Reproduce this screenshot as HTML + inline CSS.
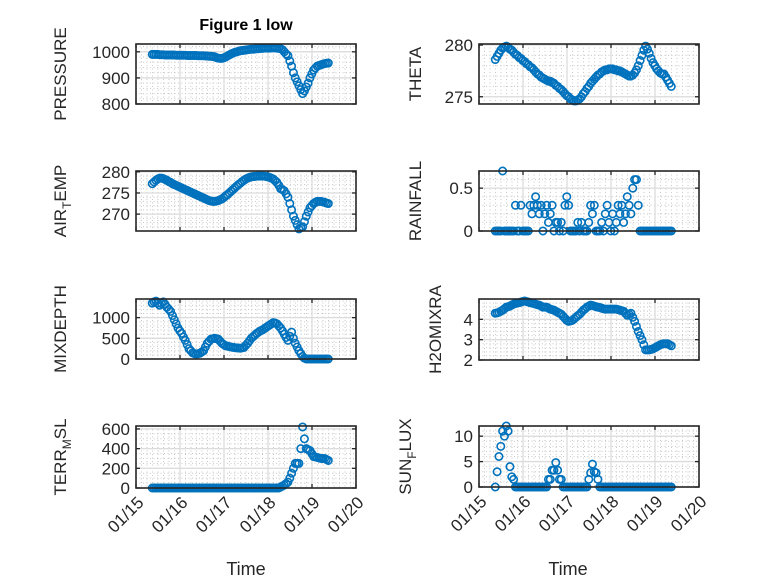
<!DOCTYPE html>
<html><head><meta charset="utf-8"><style>
html,body{margin:0;padding:0;background:#fff;}
svg{display:block;font-family:"Liberation Sans","DejaVu Sans",sans-serif;}
</style></head><body>
<svg id="fig" width="778" height="583" viewBox="0 0 778 583">
<rect x="0" y="0" width="778" height="583" fill="#ffffff"/>
<text x="246" y="30" text-anchor="middle" font-size="16" font-weight="bold" fill="#000">Figure 1 low</text>
<text x="246" y="575" text-anchor="middle" font-size="18" fill="#262626">Time</text>
<text x="568" y="575" text-anchor="middle" font-size="18" fill="#262626">Time</text>
</svg>
<script>
// time: days after 01/15 00:00, hourly samples
const startDay = 0.37;
const stepDay = 1/24;
const xTickLabels = ["01/15","01/16","01/17","01/18","01/19","01/20"];
const pressure = [990,990,990,990,989,989,989,988,988,988,988,988,988,987,987,987,987,987,987,986,986,986,986,986,986,985,985,985,985,984,984,983,983,982,981,978,976,975,975,977,980,984,988,992,995,998,1000,1002,1004,1005,1006,1007,1008,1009,1010,1010,1011,1012,1012,1013,1013,1014,1014,1014,1014,1015,1015,1015,1014,1013,1012,1008,1000,992,985,965,945,920,900,885,870,855,840,850,865,880,900,915,930,938,945,948,950,953,955,956,957];
const theta = [278.6,278.9,279.2,279.5,279.7,279.8,279.9,279.8,279.6,279.5,279.3,279.1,279,278.8,278.7,278.5,278.4,278.2,278.1,277.9,277.8,277.6,277.4,277.2,277.1,276.9,276.8,276.7,276.6,276.5,276.5,276.4,276.3,276.1,276,275.8,275.7,275.5,275.3,275.1,275,274.8,274.7,274.6,274.6,274.7,274.8,275,275.3,275.5,275.8,276,276.3,276.5,276.7,276.9,277.1,277.2,277.4,277.5,277.6,277.6,277.7,277.7,277.7,277.6,277.6,277.5,277.5,277.4,277.3,277.2,277.1,277,277,277.1,277.3,277.6,278,278.5,279,279.5,279.9,279.6,279.2,278.7,278.3,278,277.7,277.5,277.3,277.2,277.2,276.9,276.6,276.3,276];
const airTemp = [277.2,277.6,278,278.3,278.5,278.5,278.4,278.2,278,277.7,277.5,277.2,277,276.8,276.6,276.4,276.2,276,275.8,275.6,275.4,275.2,275,274.8,274.6,274.4,274.2,274,273.8,273.6,273.4,273.2,273.1,273,273,273.1,273.2,273.4,273.6,273.9,274.3,274.6,275,275.4,275.8,276.2,276.6,277,277.3,277.7,278,278.3,278.5,278.7,278.8,278.9,278.9,279,279,279,279,279,278.9,278.8,278.7,278.5,278.3,277.9,277.5,276.8,276,275.8,275.5,274.8,274,272.5,271,269.5,268.5,267.5,266.5,266.8,267,268.2,269.5,270.5,271.5,272,272.5,272.8,273,273,273,272.9,272.8,272.6,272.5];
const rainfall = [0,0,0,0,0.7,0,0,0,0,0,0,0.3,0,0,0.3,0,0,0,0,0.3,0.2,0.3,0.4,0.3,0.2,0.3,0,0.2,0.3,0.1,0.2,0.3,0,0.1,0.1,0,0.1,0,0.3,0.4,0.3,0,0,0,0,0.1,0,0.1,0,0,0,0.1,0.3,0.2,0.3,0,0,0,0.1,0,0.2,0.3,0.1,0,0.2,0,0.1,0.3,0.2,0.3,0.1,0.2,0.4,0.3,0.2,0.5,0.6,0.6,0.3,0,0,0,0,0,0,0,0,0,0,0,0,0,0,0,0,0,0];
const mixDepth = [1350,1380,1400,1350,1300,1340,1380,1320,1250,1200,1150,1050,950,850,750,680,620,530,450,350,250,200,150,130,120,130,140,170,200,290,380,430,480,490,500,490,480,430,380,350,320,310,300,290,280,275,270,265,260,270,280,330,380,440,500,540,580,620,650,680,700,730,760,790,820,850,880,870,850,800,750,680,600,520,450,550,650,500,380,290,200,130,60,20,0,0,0,0,0,0,0,0,0,0,0,0,0];
const h2oMix = [4.3,4.32,4.35,4.4,4.45,4.52,4.6,4.62,4.65,4.7,4.75,4.78,4.8,4.82,4.85,4.88,4.9,4.88,4.85,4.82,4.8,4.78,4.75,4.72,4.7,4.65,4.6,4.6,4.6,4.55,4.5,4.48,4.45,4.4,4.35,4.3,4.25,4.15,4.05,3.95,3.9,3.92,3.95,4.02,4.1,4.18,4.25,4.35,4.45,4.52,4.6,4.65,4.7,4.68,4.65,4.62,4.6,4.58,4.55,4.52,4.5,4.5,4.5,4.5,4.5,4.5,4.5,4.48,4.45,4.42,4.4,4.3,4.2,4.25,4.3,4.1,3.9,3.65,3.4,3.2,3.0,2.75,2.5,2.5,2.5,2.52,2.55,2.6,2.65,2.7,2.75,2.78,2.8,2.8,2.8,2.75,2.7];
const terrMsl = [0,0,0,0,0,0,0,0,0,0,0,0,0,0,0,0,0,0,0,0,0,0,0,0,0,0,0,0,0,0,0,0,0,0,0,0,0,0,0,0,0,0,0,0,0,0,0,0,0,0,0,0,0,0,0,0,0,0,0,0,0,0,0,0,0,0,0,0,0,0,10,20,30,45,60,100,150,200,250,250,250,400,620,500,400,390,380,350,320,315,310,305,300,300,300,290,280];
const sunFlux = [0,3,6,8,11,10,12,11,4,2,1.5,0,0,0,0,0,0,0,0,0,0,0,0,0,0,0,0,0,0,1.5,1.5,3.3,3.3,4.8,3.3,1.5,1.5,0,0,0,0,0,0,0,0,0,0,0,0,0,0,1.5,2.8,4.5,3,2.8,1.5,0,0,0,0,0,0,0,0,0,0,0,0,0,0,0,0,0,0,0,0,0,0,0,0,0,0,0,0,0,0,0,0,0,0,0,0,0,0,0,0];

const pressureTicks = [800,900,1000];
const thetaTicks = [275,280];
const airTicks = [270,275,280];
const rainTicks = [0,0.5];
const mixTicks = [0,500,1000];
const h2oTicks = [2,3,4];
const terrTicks = [0,200,400,600];
const sunTicks = [0,5,10];

const NS = "http://www.w3.org/2000/svg";
const svg = document.getElementById('fig');
function mk(tag, attrs, parent){const e=document.createElementNS(NS,tag);for(const k in attrs)e.setAttribute(k,attrs[k]);(parent||svg).appendChild(e);return e;}

const panels = [
 {key:'pressure', data:pressure, ticks:pressureTicks, y0:800, y1:1030, minor:20, x:136, y:44, w:220, h:60, label:['PRESSURE'], lx:66},
 {key:'theta', data:theta, ticks:thetaTicks, y0:274.3, y1:280.1, minor:1, x:479, y:44, w:220, h:60, label:['THETA'], lx:421},
 {key:'air-temp', data:airTemp, ticks:airTicks, y0:266, y1:280.2, minor:1, x:136, y:171, w:220, h:60, label:['AIR','T','EMP'], lx:66},
 {key:'rainfall', data:rainfall, ticks:rainTicks, y0:0, y1:0.7, minor:0.1, x:479, y:171, w:220, h:60, label:['RAINFALL'], lx:421},
 {key:'mixdepth', data:mixDepth, ticks:mixTicks, y0:0, y1:1450, minor:100, x:136, y:299, w:220, h:60, label:['MIXDEPTH'], lx:66},
 {key:'h2omixra', data:h2oMix, ticks:h2oTicks, y0:2, y1:5, minor:0.2, x:479, y:299, w:220, h:61, label:['H2OMIXRA'], lx:441},
 {key:'terr-msl', data:terrMsl, ticks:terrTicks, y0:0, y1:630, minor:50, x:136, y:426, w:220, h:62, label:['TERR','M','SL'], lx:66, bottom:true},
 {key:'sun-flux', data:sunFlux, ticks:sunTicks, y0:0, y1:12, minor:1, x:479, y:426, w:220, h:61, label:['SUN','F','LUX'], lx:411, bottom:true}
];

panels.forEach(p=>{
  const g = mk('g',{});
  
  
  const xs = d => p.x + d/5*p.w;
  const ys = v => p.y + p.h - (v-p.y0)/(p.y1-p.y0)*p.h;
  mk('rect',{x:p.x,y:p.y,width:p.w,height:p.h,fill:'#fff'},g);
  for(let k=1;k<40;k++){ if(k%8===0) continue; const X=xs(k/8);
    const l=mk('line',{x1:X,x2:X,y1:p.y,y2:p.y+p.h,stroke:'#c8c8c8','stroke-width':1,'stroke-dasharray':'1 2.5'},g);
      }
  const ms = Math.ceil(p.y0/p.minor-1e-9);
  for(let k=ms; k*p.minor<=p.y1+1e-9; k++){ const v=k*p.minor; const Y=ys(v);
    const l=mk('line',{x1:p.x,x2:p.x+p.w,y1:Y,y2:Y,stroke:'#c8c8c8','stroke-width':1,'stroke-dasharray':'1 2.5'},g);
      }
  for(let d=1; d<5; d++){ const X=xs(d);
    const l=mk('line',{x1:X,x2:X,y1:p.y,y2:p.y+p.h,stroke:'#dcdcdc','stroke-width':1.3},g);
      }
  p.ticks.forEach(v=>{ const Y=ys(v);
    const l=mk('line',{x1:p.x,x2:p.x+p.w,y1:Y,y2:Y,stroke:'#dcdcdc','stroke-width':1.3},g);
     
    mk('line',{x1:p.x,x2:p.x+4,y1:Y,y2:Y,stroke:'#262626','stroke-width':1.3},g);
    mk('line',{x1:p.x+p.w,x2:p.x+p.w-4,y1:Y,y2:Y,stroke:'#262626','stroke-width':1.3},g);
    const t=mk('text',{x:p.x-6,y:Y+6,'text-anchor':'end','font-size':17,fill:'#262626'},g);
    t.textContent=String(v);
     
  });
  xTickLabels.forEach((lab,d)=>{ const X=xs(d);
    mk('line',{x1:X,x2:X,y1:p.y+p.h,y2:p.y+p.h-4,stroke:'#262626','stroke-width':1.3},g);
    mk('line',{x1:X,x2:X,y1:p.y,y2:p.y+4,stroke:'#262626','stroke-width':1.3},g);
    if(p.bottom){
      const ty=p.y+p.h+10;
      const t=mk('text',{x:X+3,y:ty+8,'text-anchor':'end','font-size':17,fill:'#262626',transform:'rotate(-45 '+(X+3)+' '+(ty)+')'},g);
      t.textContent=lab;
       
    }
  });
  p.data.forEach((v,i)=>{
    const c=mk('circle',{cx:xs(startDay+i*stepDay),cy:ys(v),r:3.7,fill:'none',stroke:'#0072BD','stroke-width':1.6},g);
    
    
  });
  const b=mk('rect',{x:p.x,y:p.y,width:p.w,height:p.h,fill:'none',stroke:'#262626','stroke-width':1.6},g);
   
  const cy=p.y+p.h/2;
  const t=mk('text',{x:p.lx,y:cy,'text-anchor':'middle','font-size':17,fill:'#262626',transform:'rotate(-90 '+p.lx+' '+cy+')'},g);
  
  
  if(p.label.length===1){ t.textContent=p.label[0]; }
  else {
    const a=mk('tspan',{},t); a.textContent=p.label[0];
    const s=mk('tspan',{'font-size':12,dy:5},t); s.textContent=p.label[1];
    const c=mk('tspan',{dy:-5},t); c.textContent=p.label[2];
  }
});
</script>
</body></html>
